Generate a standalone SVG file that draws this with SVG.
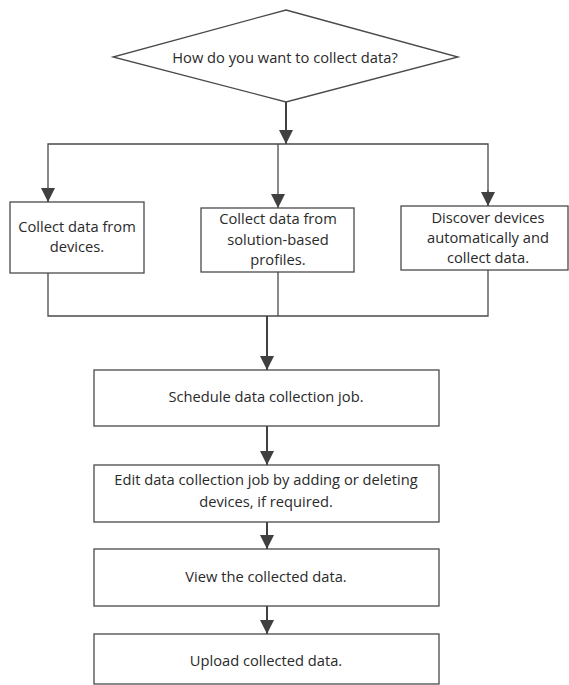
<svg xmlns="http://www.w3.org/2000/svg" width="569" height="685" viewBox="0 0 569 685">
<style>
.box{fill:#fff;stroke:#4a4a4a;stroke-width:1.3}
.t{font-family:"Open Sans","Noto Sans",sans-serif;font-size:14.7px;fill:#2a2a2a;text-anchor:middle}
.thin{fill:none;stroke:#4a4a4a;stroke-width:1.3}
.thick{fill:none;stroke:#404040;stroke-width:2}
</style>
<defs>
<marker id="ah" markerUnits="userSpaceOnUse" markerWidth="14" markerHeight="14" refX="14" refY="7" orient="auto">
<path d="M0,0 L14,7 L0,14 Z" fill="#404040"/>
</marker>
</defs>
<rect width="569" height="685" fill="#fff"/>
<g id="connectors">
<line class="thick" x1="286" y1="102" x2="286" y2="144" marker-end="url(#ah)"/>
<polyline class="thin" points="48,202 48,144 488,144 488,206"/>
<line class="thin" x1="48" y1="190" x2="48" y2="202" marker-end="url(#ah)"/>
<line class="thin" x1="278" y1="144" x2="278" y2="208" marker-end="url(#ah)"/>
<line class="thin" x1="488" y1="190" x2="488" y2="206" marker-end="url(#ah)"/>
<polyline class="thin" points="48,273 48,316 488,316 488,270"/>
<line class="thin" x1="278" y1="272" x2="278" y2="316"/>
<line class="thick" x1="267" y1="316" x2="267" y2="370" marker-end="url(#ah)"/>
<line class="thick" x1="267" y1="426" x2="267" y2="465" marker-end="url(#ah)"/>
<line class="thick" x1="267" y1="522" x2="267" y2="549" marker-end="url(#ah)"/>
<line class="thick" x1="267" y1="606" x2="267" y2="634" marker-end="url(#ah)"/>
</g>
<g id="decision">
<polygon class="box" points="286,10 458,57 286,102 113,57"/>
<text class="t" x="285" y="63">How do you want to collect data?</text>
</g>
<g id="collect-devices">
<rect class="box" x="10" y="202" width="134" height="71"/>
<text class="t" x="77" y="232">Collect data from</text>
<text class="t" x="77" y="252">devices.</text>
</g>
<g id="collect-profiles">
<rect class="box" x="201" y="208" width="153" height="64"/>
<text class="t" x="278" y="224">Collect data from</text>
<text class="t" x="278" y="245">solution-based</text>
<text class="t" x="278" y="265">profiles.</text>
</g>
<g id="discover">
<rect class="box" x="401" y="206" width="167" height="64"/>
<text class="t" x="488" y="223">Discover devices</text>
<text class="t" x="488" y="243">automatically and</text>
<text class="t" x="488" y="263">collect data.</text>
</g>
<g id="schedule">
<rect class="box" x="94" y="370" width="345" height="56"/>
<text class="t" x="266" y="402">Schedule data collection job.</text>
</g>
<g id="edit">
<rect class="box" x="94" y="465" width="345" height="57"/>
<text class="t" x="266" y="485">Edit data collection job by adding or deleting</text>
<text class="t" x="266" y="507">devices, if required.</text>
</g>
<g id="view">
<rect class="box" x="94" y="549" width="345" height="57"/>
<text class="t" x="266" y="582">View the collected data.</text>
</g>
<g id="upload">
<rect class="box" x="94" y="634" width="345" height="50"/>
<text class="t" x="266" y="666">Upload collected data.</text>
</g>
</svg>
